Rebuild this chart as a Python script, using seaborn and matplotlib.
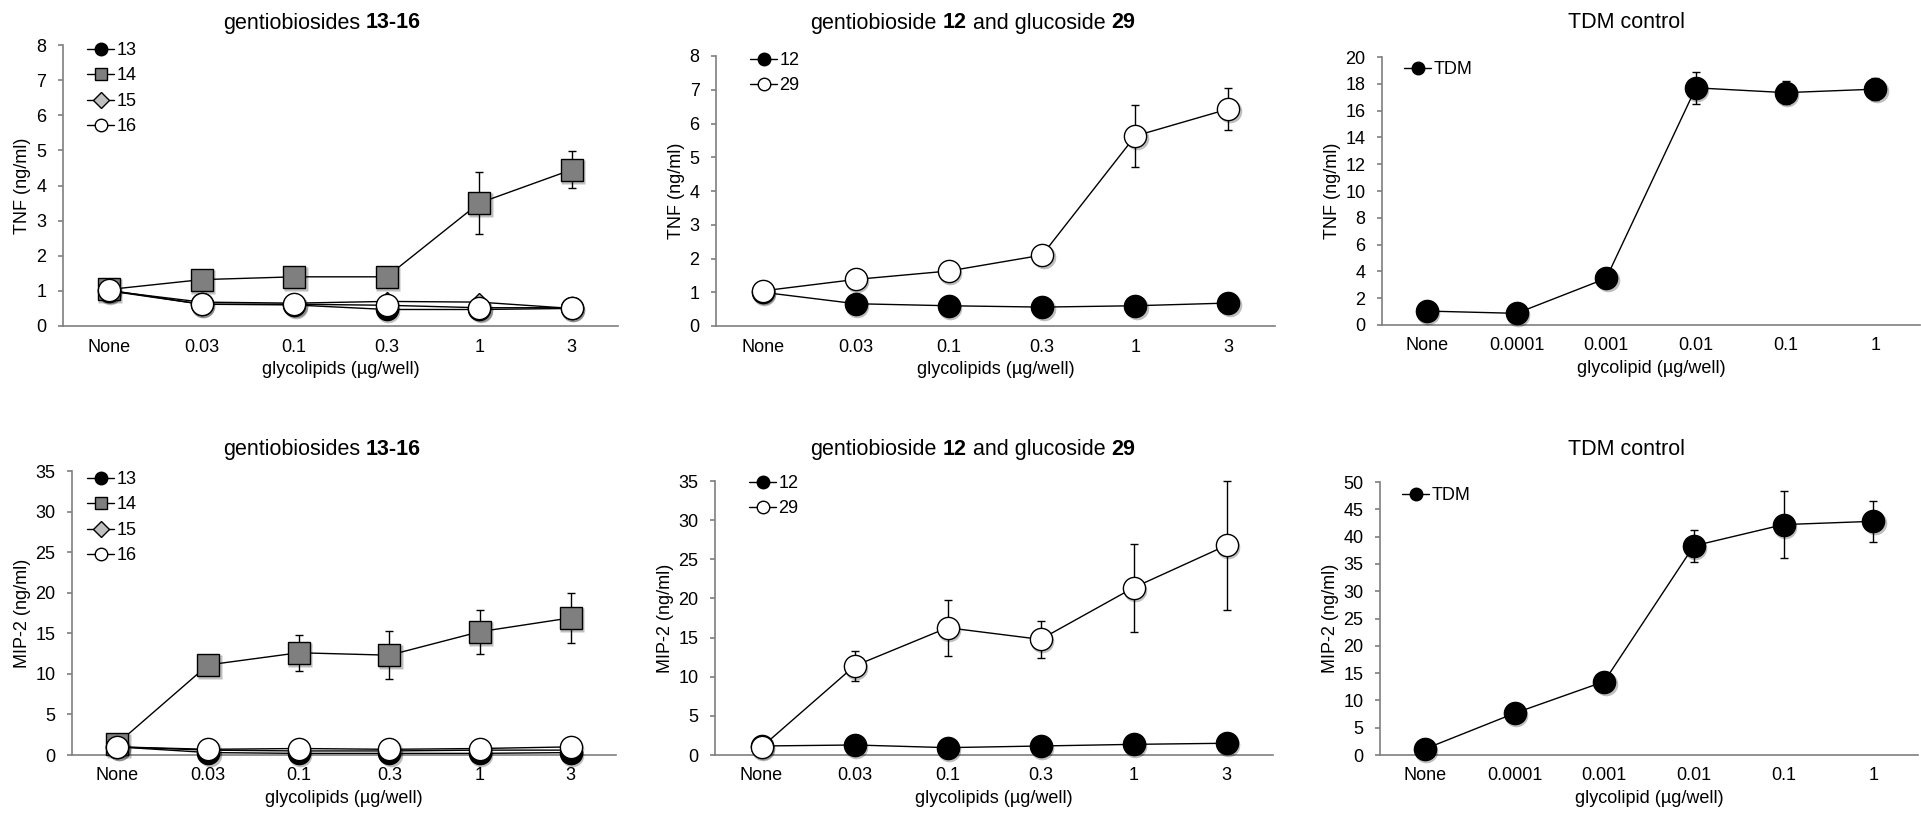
import numpy as np
import pandas as pd
import matplotlib
matplotlib.use("Agg")
import matplotlib.pyplot as plt
import matplotlib.transforms as mtransforms
from matplotlib.lines import Line2D
import seaborn as sns

# doses on the x axis
doses_glyco = ["None", "0.03", "0.1", "0.3", "1", "3"]
doses_tdm = ["None", "0.0001", "0.001", "0.01", "0.1", "1"]

# TNF (ng/ml)
tnf_13 = [1.00, 0.62, 0.60, 0.47, 0.47, 0.50]
tnf_14 = [1.04, 1.32, 1.40, 1.40, 3.50, 4.45]
tnf_14_err = [0.05, 0.08, 0.08, 0.08, 0.89, 0.52]
tnf_15 = [1.00, 0.68, 0.65, 0.70, 0.68, 0.50]
tnf_16 = [1.02, 0.62, 0.62, 0.59, 0.52, 0.52]

tnf_12 = [1.00, 0.66, 0.60, 0.56, 0.60, 0.68]
tnf_29 = [1.04, 1.38, 1.63, 2.10, 5.63, 6.43]
tnf_29_err = [0.05, 0.08, 0.10, 0.10, 0.93, 0.61]

tnf_tdm = [1.04, 0.87, 3.48, 17.70, 17.34, 17.60]
tnf_tdm_err = [0.10, 0.10, 0.20, 1.20, 0.85, 0.80]

# MIP-2 (ng/ml)
mip_13 = [1.0, 0.3, 0.2, 0.2, 0.2, 0.3]
mip_14 = [1.4, 11.1, 12.6, 12.3, 15.2, 16.9]
mip_14_err = [0.2, 0.4, 2.2, 2.95, 2.7, 3.1]
mip_15 = [1.0, 0.6, 0.5, 0.5, 0.6, 0.6]
mip_16 = [1.0, 0.7, 0.8, 0.7, 0.8, 1.0]

mip_12 = [1.15, 1.28, 0.94, 1.15, 1.36, 1.50]
mip_29 = [1.0, 11.37, 16.26, 14.77, 21.37, 26.78]
mip_29_err = [0.1, 1.9, 3.6, 2.4, 5.6, 8.2]

mip_tdm = [1.1, 7.64, 13.45, 38.3, 42.2, 42.8]
mip_tdm_err = [0.2, 0.3, 0.5, 2.9, 6.2, 3.7]

sns.set_theme(style="white")
plt.rcParams['font.family'] = ['Liberation Sans', 'DejaVu Sans']
plt.rcParams['text.color'] = 'black'
plt.rcParams['axes.labelcolor'] = 'black'

W, H = 1921, 816
fig = plt.figure(figsize=(W / 100, H / 100), dpi=100)
spine_col = '#7f7f7f'
FS = 13
MS = 16

# marker styles
st_black = dict(marker='o', mfc='black')
st_grey_sq = dict(marker='s', mfc='#7f7f7f')
st_diam = dict(marker='D', mfc='#bfbfbf')
st_white = dict(marker='o', mfc='white')


def px_axes(l, r, t, b):
    return fig.add_axes([l / W, 1 - b / H, (r - l) / W, (b - t) / H])


def draw_series(ax, y, err, z, st, ms):
    x = np.arange(len(y))
    if err is not None:
        ax.errorbar(x, y, yerr=err, fmt='none', ecolor='black', elinewidth=1,
                    capsize=3, capthick=1, zorder=z - 0.5, clip_on=False)
    # soft drop shadow under the markers
    shadow = mtransforms.offset_copy(ax.transData, fig=fig, x=1.5, y=-2, units='dots')
    ax.plot(x, y, linestyle='none', marker=st['marker'], markersize=ms + 1,
            markerfacecolor='#000000', markeredgecolor='none', alpha=0.25,
            transform=shadow, zorder=z - 0.3, clip_on=False)
    d = pd.DataFrame({'x': x, 'y': y})
    sns.lineplot(data=d, x='x', y='y', ax=ax, color='black', linewidth=1,
                 marker=st['marker'], markersize=ms, markerfacecolor=st['mfc'],
                 markeredgecolor='black', markeredgewidth=1, zorder=z,
                 clip_on=False, errorbar=None, legend=False)


def setup(ax, cats, ymax, ystep, ylabel, xlabel):
    sns.despine(ax=ax)
    ax.set_xlim(-0.5, 5.5)
    ax.set_ylim(0, ymax)
    ticks = np.arange(0, ymax + 0.01, ystep)
    ax.set_yticks(ticks)
    ax.set_yticklabels([f"{v:g}" for v in ticks])
    ax.set_xticks(range(len(cats)))
    ax.set_xticklabels(cats)
    for s in ['left', 'bottom']:
        ax.spines[s].set_color(spine_col)
        ax.spines[s].set_linewidth(1.2)
    ax.tick_params(axis='y', left=True, length=3.3, width=1.2, color=spine_col,
                   pad=8.5, labelsize=FS, labelcolor='black')
    ax.tick_params(axis='x', bottom=False, length=0, pad=9, labelsize=FS,
                   labelcolor='black')
    ax.set_ylabel(ylabel, fontsize=FS, labelpad=3.5)
    ax.set_xlabel(xlabel, fontsize=FS, labelpad=4)


def add_legend(ax, entries, hx, hy):
    handles = []
    for lab, st, ms in entries:
        handles.append(Line2D([0], [0], color='black', lw=1, marker=st['marker'],
                              markersize=ms, markerfacecolor=st['mfc'],
                              markeredgecolor='black', markeredgewidth=1, label=lab))
    ax.legend(handles=handles, loc='upper left', bbox_to_anchor=(hx / W, 1 - (hy - 10) / H),
              bbox_transform=fig.transFigure, frameon=False, borderpad=0,
              borderaxespad=0, handlelength=1.5, handletextpad=0.12,
              labelspacing=0.47, fontsize=FS)


def rich_title(xc, yc, parts, size=15.5):
    r = fig.canvas.get_renderer()
    tmp1 = fig.text(0, 0, "a a", fontsize=size)
    tmp2 = fig.text(0, 0, "aa", fontsize=size)
    sp = tmp1.get_window_extent(r).width - tmp2.get_window_extent(r).width
    tmp1.remove()
    tmp2.remove()
    texts, widths = [], []
    for s, w in parts:
        t = fig.text(0, 1 - yc / H, s, fontsize=size, fontweight=w, ha='left', va='center')
        texts.append(t)
        widths.append(t.get_window_extent(r).width)
    total = sum(widths) + sp * (len(parts) - 1)
    x = xc - total / 2
    for t, wd in zip(texts, widths):
        t.set_x(x / W)
        x += wd + sp


# top row: TNF
ax1 = px_axes(62.7, 618, 45, 326)
draw_series(ax1, tnf_13, None, 3, st_black, MS)
draw_series(ax1, tnf_14, tnf_14_err, 4, st_grey_sq, MS)
draw_series(ax1, tnf_15, None, 5, st_diam, 9)
draw_series(ax1, tnf_16, None, 6, st_white, MS)
setup(ax1, doses_glyco, 8, 1, "TNF (ng/ml)", "glycolipids (µg/well)")
add_legend(ax1, [("13", st_black, 9), ("14", st_grey_sq, 9), ("15", st_diam, 8),
                 ("16", st_white, 9)], 87, 52)

ax2 = px_axes(716, 1275, 56, 326)
draw_series(ax2, tnf_12, None, 3, st_black, MS)
draw_series(ax2, tnf_29, tnf_29_err, 4, st_white, MS)
setup(ax2, doses_glyco, 8, 1, "TNF (ng/ml)", "glycolipids (µg/well)")
add_legend(ax2, [("12", st_black, 9), ("29", st_white, 9)], 750, 62)

ax3 = px_axes(1382, 1920, 57, 325)
draw_series(ax3, tnf_tdm, tnf_tdm_err, 3, st_black, MS)
setup(ax3, doses_tdm, 20, 2, "TNF (ng/ml)", "glycolipid (µg/well)")
add_legend(ax3, [("TDM", st_black, 9)], 1404, 71)

# bottom row: MIP-2
ax4 = px_axes(72, 616, 471, 755)
draw_series(ax4, mip_13, None, 3, st_black, MS)
draw_series(ax4, mip_14, mip_14_err, 4, st_grey_sq, MS)
draw_series(ax4, mip_15, None, 5, st_diam, 9)
draw_series(ax4, mip_16, None, 6, st_white, MS)
setup(ax4, doses_glyco, 35, 5, "MIP-2 (ng/ml)", "glycolipids (µg/well)")
add_legend(ax4, [("13", st_black, 9), ("14", st_grey_sq, 9), ("15", st_diam, 8),
                 ("16", st_white, 9)], 87, 481)

ax5 = px_axes(715, 1273, 481, 755)
draw_series(ax5, mip_12, None, 3, st_black, MS)
draw_series(ax5, mip_29, mip_29_err, 4, st_white, MS)
setup(ax5, doses_glyco, 35, 5, "MIP-2 (ng/ml)", "glycolipids (µg/well)")
add_legend(ax5, [("12", st_black, 9), ("29", st_white, 9)], 749, 485)

ax6 = px_axes(1380, 1918, 482, 755)
draw_series(ax6, mip_tdm, mip_tdm_err, 3, st_black, MS)
setup(ax6, doses_tdm, 50, 5, "MIP-2 (ng/ml)", "glycolipid (µg/well)")
add_legend(ax6, [("TDM", st_black, 9)], 1402, 497)

# titles with bold compound numbers
for yc in (23, 449):
    rich_title(322, yc, [("gentiobiosides", 'normal'), ("13-16", 'bold')])
    rich_title(973, yc, [("gentiobioside", 'normal'), ("12", 'bold'),
                         ("and glucoside", 'normal'), ("29", 'bold')])
    rich_title(1627, yc, [("TDM control", 'normal')])

fig.savefig("out.png", dpi=100)
